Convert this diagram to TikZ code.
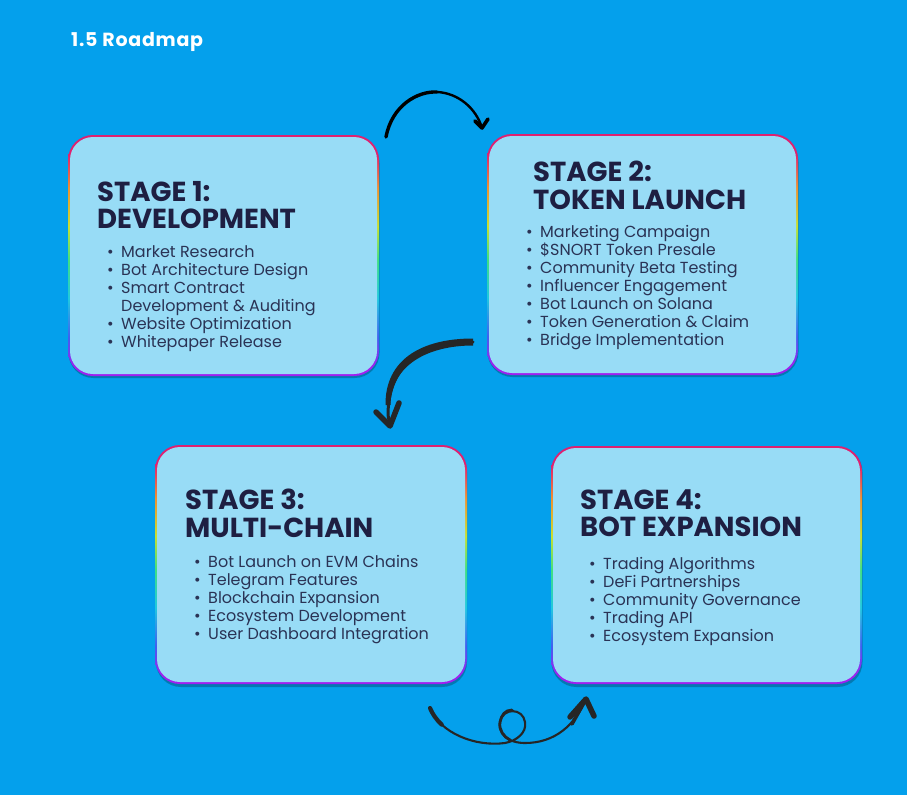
\documentclass[tikz,border=0pt]{standalone}
\usepackage{fontspec}
\setmainfont{Poppins}
\usetikzlibrary{arrows.meta,calc}
\definecolor{bgblue}{HTML}{04A0EC}
\definecolor{cardfill}{HTML}{98DCF6}
\definecolor{ink}{HTML}{1E1F42}
\definecolor{itemink}{HTML}{2A3355}
\definecolor{arrowink}{HTML}{262626}
\definecolor{edgev}{HTML}{A020F0}
\definecolor{edgeb}{HTML}{4060F0}
\definecolor{edgec}{HTML}{20C8E0}
\definecolor{edgeg}{HTML}{40E080}
\definecolor{edgey}{HTML}{C8E030}
\definecolor{edgeo}{HTML}{F09030}
\definecolor{edger}{HTML}{E02070}
\pgfdeclareverticalshading{rainbowedge}{100bp}{
  color(0bp)=(edgev);color(27bp)=(edgev);color(33bp)=(edgeb);color(41bp)=(edgec);
  color(49bp)=(edgeg);color(56bp)=(edgey);color(64bp)=(edgeo);color(71bp)=(edger);color(100bp)=(edger)}
\tikzset{
  x=1pt,y=-1pt,
  cardedge/.style={minimum width=#1,minimum height=241pt,inner sep=0pt,rounded corners=25pt,shading=rainbowedge},
  cardface/.style={minimum width=#1,minimum height=237pt,inner sep=0pt,rounded corners=23pt,fill=cardfill},
  cardshadow/.style={minimum width=#1,minimum height=240pt,inner sep=0pt,rounded corners=25pt,fill=black!60!bgblue,opacity=.4},
  stagetitle/.style={anchor=north west,inner sep=0pt,align=left,text=ink,font=\fontsize{27.5}{27.5}\selectfont\bfseries},
  stageitems/.style={anchor=north west,inner sep=0pt,align=left,text=itemink,font=\fontsize{16}{18}\selectfont},
  pagetitle/.style={anchor=base west,inner sep=0pt,text=white,font=\fontsize{19}{20}\selectfont\bfseries\addfontfeature{LetterSpace=4}},
  linkline/.style={draw=#1,line cap=round,line join=round},
}
\newcommand{\firstT}{\rule{0pt}{19pt}}
\newcommand{\firstI}{\rule{0pt}{11pt}}
\newcommand{\bul}{\makebox[14pt][l]{\textbullet}}
\newcommand{\nobul}{\hspace*{14pt}}
\begin{document}
\begin{tikzpicture}
\useasboundingbox (0,0) rectangle (907,795);
\fill[bgblue] (0,0) rectangle (907,795);
\node[pagetitle] (pt) at (71,46) {1.5 Roadmap};
% shadows
\node[cardshadow=311pt] (sh1) at (224,258) {};
\node[cardshadow=311pt] (sh2) at (643,257) {};
\node[cardshadow=311pt] (sh3) at (311.5,567) {};
\node[cardshadow=311pt] (sh4) at (707,567) {};
% cards
\node[cardedge=311pt] (s1) at (223.5,255.5) {};
\node[cardface=307pt] (f1) at (223.5,255.5) {};
\node[cardedge=311pt] (s2) at (642.5,254.5) {};
\node[cardface=307pt] (f2) at (642.5,254.5) {};
\node[cardedge=312pt,minimum height=239pt] (s3) at (311,564.5) {};
\node[cardface=308pt,minimum height=235pt] (f3) at (311,564.5) {};
\node[cardedge=311pt,minimum height=238pt] (s4) at (706.5,565) {};
\node[cardface=307pt,minimum height=234pt] (f4) at (706.5,565) {};
% titles
\node[stagetitle] (t1) at (97,181) {\firstT STAGE 1:\\DEVELOPMENT};
\node[stagetitle] (t2) at (533,161) {\firstT STAGE 2:\\TOKEN LAUNCH};
\node[stagetitle] (t3) at (185,489) {\firstT STAGE 3:\\MULTI-CHAIN};
\node[stagetitle] (t4) at (580,489) {\firstT STAGE 4:\\BOT EXPANSION};
% items
\node[stageitems] (i1) at (107,245) {\firstI\bul Market Research\\\bul Bot Architecture Design\\\bul Smart Contract\\\nobul Development \& Auditing\\\bul Website Optimization\\\bul Whitepaper Release};
\node[stageitems] (i2) at (526,225) {\firstI\bul Marketing Campaign\\\bul \$SNORT Token Presale\\\bul Community Beta Testing\\\bul Influencer Engagement\\\bul Bot Launch on Solana\\\bul Token Generation \& Claim\\\bul Bridge Implementation};
\node[stageitems] (i3) at (194,555) {\firstI\bul Bot Launch on EVM Chains\\\bul Telegram Features\\\bul Blockchain Expansion\\\bul Ecosystem Development\\\bul User Dashboard Integration};
\node[stageitems] (i4) at (589,557) {\firstI\bul Trading Algorithms\\\bul DeFi Partnerships\\\bul Community Governance\\\bul Trading API\\\bul Ecosystem Expansion};
% connectors
\coordinate (a1s) at (386,137);
\coordinate (a1m) at (437,92);
\coordinate (a1e) at (482,128);
\draw[linkline=black,line width=3.4pt] (a1s) .. controls (392,105) and (418,91) .. (a1m);
\draw[linkline=black,line width=2.4pt] (a1m) .. controls (458,93) and (476,108) .. (a1e);
\draw[linkline=black,line width=3.6pt] (475,121) -- (a1e) -- (488,119);
\coordinate (a2s) at (473,342);
\coordinate (a2m) at (388,415);
\coordinate (a2e) at (390,426);
\draw[linkline=arrowink,line width=3pt] (a2s) .. controls (425,342) and (388,362) .. (a2m) -- (a2e);
\fill[arrowink] (473,338.5) .. controls (421,338.5) and (385,360) .. (385.5,405) -- (390.5,405) .. controls (391,365) and (428,345.5) .. (473,345.5) -- cycle;
\draw[linkline=arrowink,line width=5.5pt] (376,412) -- (a2e) -- (399,403);
\coordinate (a3s) at (430,708);
\coordinate (a3a) at (505,743);
\coordinate (a3b) at (525,722);
\coordinate (a3c) at (500,722);
\coordinate (a3d) at (525,743);
\coordinate (a3e) at (586,699);
\draw[linkline=arrowink,line width=2.1pt] (a3s) .. controls (440,733) and (475,747) .. (a3a) .. controls (516,741) and (527,733) .. (a3b) .. controls (523,708) and (503,707) .. (a3c) .. controls (498,734) and (508,743) .. (a3d) .. controls (555,743) and (575,725) .. (a3e);
\draw[linkline=arrowink,line width=4.2pt] (a3s) .. controls (432.5,714.25) and (436.6,719.8) .. (441.7,724.6);
\draw[linkline=arrowink,line width=2.8pt] (512,710) .. controls (505,710) and (501.5,715) .. (a3c) .. controls (498.5,730) and (504,737) .. (510,740);
\draw[linkline=arrowink,line width=5.5pt] (570,717) -- (a3e) -- (594,716);
\draw[linkline=arrowink,line width=3.6pt] (572,724) -- (a3e);
\end{tikzpicture}
\end{document}
